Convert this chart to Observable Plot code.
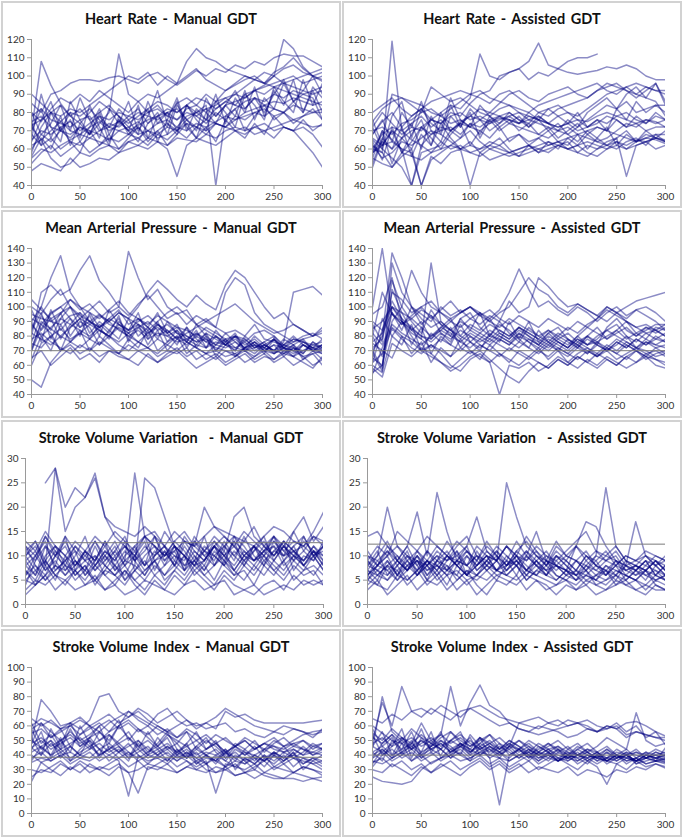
<!DOCTYPE html>
<html>
<head>
<meta charset="utf-8">
<script src="https://cdn.jsdelivr.net/npm/d3@7"></script>
<script src="https://cdn.jsdelivr.net/npm/@observablehq/plot@0.6"></script>
<style>
  html, body { margin: 0; padding: 0; background: #fff; }
  #root { position: relative; width: 685px; height: 839px; background: #fff; overflow: hidden; font-family: Lato, "Open Sans", sans-serif; }
  .panel { position: absolute; box-sizing: border-box; border: 2px solid #d2d2d2; background: #fff; }
  .title { position: absolute; left: 0; right: 0; top: 7px; text-align: center; font: bold 14.5px Lato, "Open Sans", sans-serif; color: #111; white-space: pre; word-spacing: 2px; }
  .chart { position: absolute; }
</style>
</head>
<body>
<div id="root"></div>
<script>
const _ = NaN;
const minutes = [0,10,20,30,40,50,60,70,80,90,100,110,120,130,140,150,160,170,180,190,200,210,220,230,240,250,260,270,280,290,300];
const xTicks = [0,50,100,150,200,250,300];
const hrTicks = [40,50,60,70,80,90,100,110,120];
const mapTicks = [40,50,60,70,80,90,100,110,120,130,140];
const svvTicks = [0,5,10,15,20,25,30];
const sviTicks = [0,10,20,30,40,50,60,70,80,90,100];

const hrManual = [
 [58,72,80,75,70,68,72,75,70,73,78,76,80,82,78,85,88,84,90,86,92,95,98,100,96,102,105,110,104,100,98],
 [70,108,95,85,78,82,76,80,84,78,72,75,70,74,76,72,78,80,82,78,84,86,88,92,90,94,96,98,100,102,104],
 [85,80,90,92,96,98,98,97,99,100,98,96,100,102,98,95,99,103,100,104,102,106,104,108,106,110,112,111,111,108,105],
 [55,60,58,62,65,68,66,70,72,75,70,73,76,78,80,76,82,84,80,86,88,84,90,92,95,100,120,115,105,100,97],
 [62,65,55,50,52,58,56,60,62,58,64,66,62,68,65,70,66,72,70,74,72,76,78,80,82,78,80,84,82,80,80],
 [75,78,72,70,68,72,70,68,65,70,72,68,70,66,68,72,70,74,72,75,78,76,80,82,84,86,85,88,86,84,86],
 [48,52,50,48,55,50,52,55,54,58,60,62,60,64,62,66,65,64,68,66,70,72,70,72,74,70,72,70,72,68,61],
 [80,75,82,88,85,90,86,92,88,84,80,86,90,88,92,96,100,104,98,95,92,96,100,98,102,100,96,94,92,90,92],
 [65,70,68,72,75,70,74,78,76,80,78,82,74,78,82,80,84,80,76,82,86,84,82,88,86,90,88,92,90,92,94],
 [72,65,70,75,80,78,82,76,72,70,68,72,66,70,74,70,76,72,68,74,72,78,76,80,78,82,80,76,74,72,73],
 [68,62,66,60,64,62,66,64,62,60,64,62,66,64,60,45,62,66,64,62,66,70,72,68,70,72,74,76,78,80,82],
 [90,85,80,78,82,80,84,88,92,96,100,98,102,95,100,96,108,115,110,108,104,102,100,98,96,94,92,90,88,86,84],
 [78,82,76,74,72,76,78,70,74,72,76,80,78,76,80,82,76,80,84,40,78,82,86,88,84,82,80,86,90,88,76],
 [60,68,64,70,66,72,68,74,80,112,90,86,80,84,78,76,80,78,82,84,88,90,94,98,96,100,104,106,102,100,102],
 [52,58,62,56,60,64,58,62,66,64,68,66,70,68,72,70,74,72,76,74,72,70,68,72,70,66,72,70,64,58,50],
 [73,76,80,84,78,74,80,86,82,78,74,78,82,86,84,80,84,88,86,82,86,90,88,92,94,96,98,100,96,98,100],
 [70,82,66,78,62,74,68,80,64,76,70,84,66,78,72,86,70,82,76,90,74,88,80,94,78,92,84,98,80,94,88],
 [64,76,86,70,80,66,84,72,62,78,68,74,82,64,76,88,72,66,80,74,84,78,92,76,88,82,96,86,80,92,80],
 [80,68,74,84,70,88,76,66,82,74,86,70,78,92,74,68,84,76,70,86,80,72,90,84,76,94,86,80,98,84,96],
 [56,66,60,72,64,58,70,62,68,60,66,72,64,70,62,68,74,66,72,64,76,70,66,74,68,78,72,70,76,70,74],
 [74,62,80,70,76,64,72,82,68,76,70,64,74,80,68,84,76,70,88,78,84,92,82,88,80,90,98,86,92,100,90],
 [66,90,72,64,86,76,68,78,72,82,76,68,86,74,80,70,84,78,74,80,76,82,70,78,84,76,80,74,78,82,76]
];

const hrAssisted = [
 [60,58,119,70,65,62,68,72,70,75,78,76,80,78,76,74,78,76,74,72,74,76,75,78,80,78,76,74,76,75,72],
 [55,70,65,60,40,62,58,64,60,62,58,60,62,60,58,60,62,60,58,62,60,62,64,62,60,64,62,65,64,66,64],
 [68,75,80,72,78,82,76,74,80,78,85,90,92,100,102,104,98,102,100,104,102,101,102,103,105,104,106,104,100,98,98],
 [58,62,70,66,60,72,76,80,84,82,88,112,100,98,102,104,108,118,106,104,108,110,110,112,_,_,_,_,_,_,_],
 [65,60,55,50,40,58,60,62,70,74,78,82,80,85,90,92,88,86,90,92,94,90,88,92,96,94,92,90,94,92,92],
 [70,72,68,74,76,80,82,78,74,76,72,70,74,76,78,80,76,74,72,70,68,72,76,80,84,82,86,80,82,84,84],
 [62,55,58,64,62,66,70,68,64,60,62,60,64,62,58,60,62,58,60,62,60,62,58,56,60,62,60,64,66,68,68],
 [50,65,90,88,86,84,80,78,82,86,90,92,88,86,84,82,80,84,86,88,90,92,94,96,92,90,94,96,94,92,90],
 [72,80,74,68,72,70,76,74,78,80,76,78,75,77,76,74,76,78,74,72,74,70,72,76,74,78,80,76,74,78,76],
 [55,52,50,58,56,54,58,60,62,60,58,56,60,58,56,58,60,62,64,62,64,58,62,60,64,66,45,62,64,66,64],
 [60,68,72,70,74,78,72,76,70,74,72,76,74,78,80,76,74,80,78,82,84,86,88,92,94,96,92,88,92,96,84],
 [75,82,86,88,84,80,94,90,86,88,84,80,78,82,84,80,78,76,74,78,80,76,72,74,78,76,72,74,70,72,72],
 [66,62,64,60,58,40,56,52,58,60,40,58,54,56,58,56,58,60,62,64,66,68,70,72,70,68,66,64,66,65,63],
 [58,64,60,66,70,72,68,70,72,68,74,72,76,78,74,72,70,68,66,70,72,68,66,64,66,70,74,72,76,74,76],
 [80,84,88,82,78,82,86,88,90,92,90,88,85,90,92,88,84,80,82,84,80,78,82,86,90,92,94,90,88,86,78],
 [62,58,50,56,60,40,54,58,62,66,70,64,60,62,66,68,64,66,62,64,60,58,56,60,62,64,60,62,64,60,62],
 [64,54,72,58,68,76,62,80,70,66,74,68,78,72,76,70,74,68,72,66,70,74,68,72,70,76,72,78,74,80,76],
 [58,70,52,66,74,60,78,68,84,72,80,66,76,70,74,78,72,76,70,74,68,64,70,66,72,62,68,64,70,66,70],
 [72,60,78,86,66,82,74,70,88,76,72,84,78,74,80,76,72,78,74,70,76,72,80,84,88,82,90,94,88,96,86],
 [52,66,60,72,56,68,62,74,66,60,64,58,62,66,60,56,62,58,64,60,66,62,68,64,62,66,70,64,68,66,65],
 [68,76,64,80,72,86,70,64,78,72,82,76,70,74,78,74,80,76,82,78,74,80,72,76,70,82,76,86,80,84,80],
 [76,62,70,58,64,72,66,60,68,74,62,70,66,72,64,68,62,66,70,64,62,68,60,66,62,60,64,66,62,68,64]
];

const mapManual = [
 [90,100,120,135,110,100,90,95,88,85,80,84,78,82,80,76,78,74,72,76,74,72,70,74,72,68,72,70,74,72,70],
 [80,110,115,108,112,125,135,118,110,100,138,120,105,112,100,95,98,88,92,86,82,84,80,88,78,76,74,72,70,74,72],
 [70,85,95,100,105,98,102,95,90,96,92,100,110,118,112,105,100,108,102,98,115,125,120,110,100,92,96,88,84,80,86],
 [50,45,62,70,74,68,72,66,70,68,74,70,72,66,70,68,72,64,68,70,66,68,62,66,70,64,68,72,66,60,64],
 [95,92,90,88,94,96,90,86,92,88,84,88,82,86,80,84,78,82,76,80,74,78,72,76,70,74,72,78,76,74,76],
 [75,72,80,85,78,82,88,84,80,76,82,86,90,84,88,82,80,76,78,74,72,76,70,72,74,70,68,66,70,72,68],
 [85,100,90,95,105,100,96,92,98,104,96,92,88,94,90,86,84,80,86,82,78,80,76,82,84,80,72,76,78,80,82],
 [65,70,60,66,72,64,68,62,70,66,64,60,68,62,66,70,64,58,62,66,60,64,68,62,66,64,70,66,62,58,66],
 [100,95,105,112,100,94,90,86,92,98,88,92,86,80,84,78,82,86,90,94,98,102,96,90,86,82,84,88,84,80,84],
 [60,75,80,70,76,82,78,74,80,86,82,76,72,78,74,80,76,72,68,74,78,72,76,70,74,78,72,68,74,70,74],
 [88,80,86,92,88,84,80,86,90,84,80,76,82,88,84,78,74,80,76,72,70,68,72,74,70,68,72,70,66,68,70],
 [105,98,92,96,100,92,88,94,90,96,92,88,84,90,96,100,94,88,84,80,76,80,74,78,72,70,74,80,74,70,72],
 [78,82,76,72,68,74,70,76,72,68,64,70,66,62,68,72,66,70,64,68,62,66,70,64,68,62,66,60,64,68,60],
 [92,88,96,100,92,86,90,84,80,88,84,90,94,88,82,86,80,76,82,78,74,80,78,72,76,80,74,78,76,72,74],
 [70,90,85,80,86,92,98,104,96,100,94,102,108,100,92,96,88,94,90,86,110,120,115,96,88,84,80,76,80,82,78],
 [82,78,74,80,76,72,78,84,80,74,70,76,72,68,74,70,76,72,68,64,70,66,72,68,74,70,76,110,112,114,108],
 [84,96,78,92,100,86,94,80,98,88,82,92,86,78,90,82,76,88,80,74,82,76,72,80,74,70,78,74,68,76,72],
 [72,88,82,70,86,92,78,88,82,94,76,86,80,90,76,84,72,82,78,70,76,82,70,76,72,78,70,74,78,70,74],
 [90,76,98,84,92,80,96,86,78,90,84,96,78,88,82,74,86,78,72,84,76,70,80,74,68,78,72,66,74,70,64],
 [64,80,70,88,76,84,70,80,74,68,78,72,84,70,76,80,68,74,82,70,78,66,72,76,70,74,66,72,68,76,70],
 [98,84,92,78,88,96,82,90,84,78,92,80,86,96,82,88,76,84,72,80,74,70,78,72,76,68,74,70,76,72,78],
 [76,94,84,96,80,90,86,74,84,92,78,88,74,84,70,78,86,72,80,66,74,80,70,66,72,78,68,74,64,70,68]
];

const mapAssisted = [
 [100,140,95,90,85,80,78,84,80,76,82,78,74,80,76,72,78,74,70,76,72,78,74,76,80,84,78,82,86,84,88],
 [60,55,130,110,100,92,86,90,84,80,76,82,78,84,80,86,82,78,74,80,76,72,78,74,70,76,72,78,74,80,76],
 [70,80,137,120,100,95,90,100,94,98,92,96,90,86,92,88,84,80,76,82,78,74,80,76,72,78,74,70,76,72,74],
 [55,60,90,100,125,110,100,96,92,96,100,94,90,96,100,110,120,112,108,100,96,102,98,94,100,96,92,98,94,90,84],
 [75,70,65,80,76,70,74,68,60,56,64,68,62,40,60,58,62,56,60,66,62,58,64,60,66,62,58,62,66,60,58],
 [65,60,100,90,82,78,130,90,84,78,84,80,76,82,78,84,80,76,72,78,74,80,86,82,78,82,86,80,84,88,88],
 [80,110,95,88,92,86,80,84,90,96,100,96,92,98,110,126,112,100,104,98,94,100,96,90,96,100,94,98,100,96,90],
 [58,52,75,70,66,72,68,62,58,64,70,66,62,68,64,60,66,62,58,64,60,66,62,68,64,60,66,62,68,64,62],
 [72,78,110,105,96,100,104,96,90,86,92,88,94,90,104,96,100,120,114,106,100,102,98,94,90,96,100,104,106,108,110],
 [85,90,100,92,86,80,76,82,78,84,80,76,80,78,74,80,76,72,78,74,70,76,72,68,74,70,76,72,68,70,66],
 [62,68,85,78,72,68,74,70,66,72,68,74,70,66,72,68,64,70,66,72,68,64,70,66,72,68,74,70,66,64,60],
 [90,84,100,96,92,98,94,88,84,90,86,82,88,84,80,86,82,78,84,80,86,82,88,92,100,96,90,86,82,84,80],
 [68,56,80,90,84,78,72,78,74,70,76,72,78,74,70,76,72,68,74,70,66,72,68,74,70,76,72,78,74,78,76],
 [95,100,120,90,80,70,66,62,56,60,66,70,64,58,52,48,56,62,58,64,60,66,62,58,64,60,66,70,64,68,70],
 [76,82,96,88,94,100,92,98,104,96,100,94,98,92,88,94,90,86,92,88,84,90,86,92,98,94,90,86,88,84,80],
 [82,74,88,82,78,74,80,86,82,76,72,78,84,80,76,82,78,74,80,76,72,78,74,80,84,80,76,72,76,74,78],
 [70,58,112,96,84,90,78,86,92,80,88,84,92,82,78,86,80,74,82,76,72,80,74,78,84,88,80,76,82,78,82],
 [62,84,104,92,74,86,68,80,74,88,76,70,82,76,90,78,72,84,76,70,78,74,68,76,70,74,80,72,78,74,72],
 [80,66,96,84,100,88,94,82,76,92,84,96,80,88,84,78,90,76,82,86,78,72,80,74,86,92,84,80,86,82,86],
 [54,72,86,80,68,76,62,72,66,78,70,64,74,68,62,70,66,72,64,70,62,68,72,66,70,64,68,72,70,66,68],
 [88,76,118,100,90,82,98,88,80,92,96,86,80,90,82,76,86,80,84,78,82,76,80,86,78,84,90,82,78,86,84],
 [66,92,80,74,88,70,82,76,86,72,80,74,70,78,74,82,76,70,76,72,68,74,70,66,72,68,64,70,66,72,68]
];

const svvManual = [
 [_,_,25,28,20,24,22,26,18,16,15,14,16,14,12,15,13,12,14,16,15,14,13,12,14,16,15,13,12,14,13],
 [10,12,8,28,15,20,22,27,18,14,12,10,14,12,10,11,13,12,10,12,14,12,10,9,11,12,10,11,12,10,12],
 [8,6,10,12,8,7,9,10,8,6,9,27,14,15,12,10,8,9,11,10,12,14,10,12,9,11,10,12,14,10,11],
 [5,4,6,8,7,9,6,8,10,7,9,8,26,24,18,12,10,8,9,12,10,8,11,9,10,12,8,10,9,11,8],
 [12,10,14,11,9,12,10,8,11,9,12,10,8,11,9,12,10,8,11,13,11,18,20,14,12,10,13,11,9,12,10],
 [3,5,4,6,5,3,4,5,3,4,2,3,5,4,3,2,4,5,3,4,5,2,3,4,2,3,4,3,5,4,5],
 [9,11,7,10,8,12,9,7,10,13,9,11,8,10,12,9,14,11,9,12,10,13,11,9,12,10,13,11,9,12,9],
 [6,8,5,7,9,6,8,5,7,6,8,5,7,9,6,8,10,7,9,12,8,6,9,7,10,8,6,9,7,8,6],
 [11,13,9,12,10,8,11,9,13,10,12,9,11,14,10,12,8,11,9,13,10,12,9,11,13,10,12,9,11,14,12],
 [7,5,9,6,4,7,5,8,6,4,7,5,3,6,4,7,5,8,6,4,7,5,8,6,9,7,5,8,6,7,4],
 [4,9,12,10,14,11,9,13,10,8,11,9,12,10,15,12,10,13,11,14,12,10,13,16,12,14,11,13,12,15,19],
 [10,7,5,8,6,9,7,5,8,6,4,7,5,8,6,9,7,10,8,12,9,7,10,8,11,9,12,10,8,11,8],
 [2,4,6,3,5,7,4,6,3,5,7,4,2,5,3,6,4,7,5,3,6,4,3,2,4,5,3,6,4,5,4],
 [13,11,15,12,10,13,11,14,12,15,13,11,14,12,10,13,15,12,20,16,14,12,15,13,11,14,12,15,18,13,16],
 [8,10,7,9,6,8,11,7,9,12,8,10,7,9,11,8,6,9,7,10,8,11,9,12,10,7,9,11,8,10,7],
 [5,7,9,6,8,5,7,10,6,8,5,7,9,6,8,12,7,9,6,8,10,7,5,8,6,9,7,10,8,6,9],
 [9,6,12,8,14,7,11,9,13,7,10,12,8,14,9,11,7,13,10,8,12,9,14,10,8,13,11,9,14,10,12],
 [12,8,6,10,13,9,7,12,8,11,14,9,6,10,12,8,13,10,7,11,9,13,8,12,10,14,9,12,8,11,10],
 [6,10,13,7,9,11,6,9,12,8,6,10,13,7,11,8,12,9,14,8,11,7,10,12,8,11,13,7,10,9,12],
 [10,13,8,11,7,10,14,8,11,9,13,7,10,12,8,10,9,14,11,9,13,10,8,11,14,9,12,10,13,11,9],
 [7,4,8,5,10,6,8,4,7,10,5,8,6,9,5,7,10,6,8,5,9,6,7,4,8,6,9,5,7,10,7],
 [11,9,14,10,12,8,10,13,9,11,8,12,14,9,10,13,11,8,12,10,8,14,12,9,11,13,10,15,11,9,13]
];

const svvAssisted = [
 [14,15,12,10,8,9,7,8,6,7,5,6,8,7,6,5,7,6,8,6,5,7,6,5,4,6,5,7,6,5,6],
 [8,10,20,12,10,9,8,11,9,10,8,12,10,9,25,18,12,10,9,8,7,9,8,10,24,12,9,8,7,9,8],
 [6,8,7,9,12,19,10,23,15,9,8,10,9,7,9,8,10,15,9,8,7,12,17,16,12,9,8,7,9,8,6],
 [5,7,6,8,5,7,9,6,8,5,7,6,8,6,7,9,7,6,5,4,6,5,7,4,5,6,4,5,7,4,3],
 [10,9,11,8,10,7,9,8,10,9,11,8,10,9,12,10,9,11,8,10,9,12,10,9,11,8,10,9,8,10,9],
 [3,5,2,4,6,3,5,4,6,3,5,2,4,6,5,4,6,5,3,4,5,3,4,2,3,4,5,3,4,3,3],
 [7,6,8,10,7,9,6,8,7,9,6,8,10,7,8,9,6,8,7,5,7,6,8,7,9,10,7,8,7,9,7],
 [9,12,10,15,13,11,14,12,10,13,11,9,12,10,8,11,13,10,8,12,10,9,11,8,10,12,9,8,10,9,7],
 [4,6,5,7,4,6,8,5,7,6,4,6,5,7,6,8,5,7,6,5,7,6,4,6,5,7,6,5,4,6,5],
 [11,8,10,12,9,11,8,10,9,12,14,10,8,11,9,13,10,8,10,9,11,13,15,11,9,8,10,9,11,10,9],
 [6,9,7,5,8,6,9,7,10,8,6,9,7,5,8,10,7,9,6,8,7,5,6,8,7,6,8,7,9,6,8],
 [8,7,9,6,8,10,7,9,11,8,10,7,9,12,10,8,11,9,7,10,8,6,9,7,6,8,7,6,8,7,6],
 [5,4,3,6,5,7,4,6,3,5,7,4,2,5,4,6,3,5,4,2,4,3,5,4,3,5,4,3,2,4,3],
 [7,10,13,9,12,8,11,9,13,10,12,18,11,9,12,10,14,11,9,13,10,12,9,11,10,9,8,17,10,8,10],
 [9,6,8,7,9,6,8,10,7,9,8,6,9,7,10,8,6,9,7,8,6,7,5,6,8,7,6,5,7,6,5],
 [6,8,11,9,7,10,8,6,9,11,8,10,7,9,12,9,7,10,8,11,9,7,10,8,6,9,7,8,6,7,5],
 [7,5,9,6,10,8,5,9,7,11,6,8,10,7,9,6,10,8,6,9,7,5,8,6,7,5,8,6,7,5,6],
 [9,7,5,8,11,6,9,7,10,8,6,11,8,10,7,9,11,8,6,10,8,6,7,9,6,8,5,7,9,6,8],
 [5,8,10,6,9,7,11,8,6,9,12,7,9,11,8,10,7,9,11,8,6,9,7,5,8,6,9,7,5,8,6],
 [8,11,6,9,7,10,6,9,8,6,10,8,11,9,7,10,8,6,9,7,9,7,10,8,7,9,6,8,7,9,7],
 [6,4,8,5,7,9,5,7,4,8,6,5,7,9,6,8,5,7,9,6,5,4,6,5,7,4,6,5,3,5,4],
 [10,8,12,9,7,11,9,12,10,8,11,9,13,10,8,11,9,12,10,8,10,9,7,10,9,11,8,9,10,8,9]
];

const sviManual = [
 [50,78,70,60,62,58,64,80,82,70,66,72,68,62,66,70,64,60,62,58,70,66,68,64,62,62,62,62,62,63,64],
 [40,35,38,42,36,40,38,44,40,36,12,40,36,38,42,36,40,34,38,36,32,36,34,38,36,40,34,38,36,34,36],
 [60,65,62,58,60,64,60,56,62,66,70,64,60,68,72,64,60,62,58,60,62,56,58,54,52,56,54,58,56,52,58],
 [45,50,44,48,52,46,50,44,48,42,46,50,44,40,46,42,38,44,40,36,42,38,34,40,36,42,38,44,40,46,44],
 [30,28,32,36,30,34,28,32,30,34,28,14,32,30,34,28,32,36,30,28,32,26,28,24,28,26,24,28,26,24,22],
 [55,58,52,56,60,54,58,62,56,60,64,58,54,60,56,52,58,54,48,54,50,46,52,48,44,50,46,48,44,42,45],
 [35,38,36,40,42,38,36,40,44,38,42,36,40,38,34,40,36,32,36,14,34,32,30,34,28,32,30,28,32,30,28],
 [65,60,64,58,62,66,60,64,68,62,66,70,64,60,56,60,64,58,62,66,72,68,64,60,58,56,60,58,56,54,56],
 [42,46,50,44,48,52,46,50,54,48,52,46,50,44,48,42,46,40,44,48,42,46,50,44,48,46,44,48,50,46,48],
 [25,30,28,34,30,36,32,30,34,38,32,36,30,34,38,32,36,30,28,32,30,34,28,32,36,30,34,28,32,30,26],
 [50,45,40,44,38,42,46,40,44,48,42,38,42,46,40,36,42,38,34,40,36,32,38,34,40,36,42,38,34,38,36],
 [38,42,36,40,34,38,42,36,40,44,38,42,46,40,44,38,42,36,40,44,38,42,36,40,44,46,42,44,40,42,40],
 [58,62,56,50,54,48,52,56,50,60,70,66,62,58,54,50,46,50,44,48,42,46,40,44,48,44,42,46,44,40,42],
 [22,35,30,26,32,28,34,30,26,32,28,30,34,32,30,28,32,30,34,28,30,26,28,30,26,24,24,24,22,24,25],
 [48,52,46,50,56,50,54,60,64,58,62,56,60,54,58,52,56,50,54,48,52,46,50,44,48,52,46,50,54,56,57],
 [45,40,48,42,46,40,44,48,42,46,40,44,38,42,46,40,44,38,42,40,44,38,42,40,36,42,38,40,38,36,40],
 [52,40,58,46,62,50,44,56,48,60,52,44,56,46,52,40,48,56,44,50,38,46,42,36,44,40,46,38,42,48,44],
 [44,56,38,50,42,60,48,40,54,46,38,50,42,48,56,44,38,46,40,34,42,36,44,38,32,40,36,42,34,38,34],
 [62,48,54,44,58,46,52,60,44,50,56,46,40,52,44,48,40,46,52,42,36,44,40,46,38,42,36,40,46,40,44],
 [36,46,40,52,36,44,50,38,46,42,36,48,40,44,36,42,48,34,40,36,44,30,38,34,40,32,36,42,30,36,32],
 [48,62,52,58,46,54,60,50,56,64,50,58,52,46,54,48,56,44,50,46,40,48,44,50,42,48,52,46,50,44,48],
 [58,44,50,38,46,40,52,44,36,42,48,40,34,40,36,44,38,42,34,38,32,40,36,30,38,34,40,32,38,34,30]
];

const sviAssisted = [
 [25,22,21,20,22,30,35,38,40,36,38,42,40,38,36,40,42,38,40,36,38,40,42,38,36,40,38,36,40,38,40],
 [50,76,60,87,70,66,72,68,64,70,72,74,70,66,64,62,64,66,62,64,60,62,58,56,58,60,54,56,54,52,52],
 [45,80,56,50,58,52,48,54,87,60,76,88,74,70,62,58,56,60,58,56,52,54,58,56,60,58,52,56,54,52,50],
 [40,44,38,42,46,40,44,48,42,46,40,44,38,6,40,44,38,42,40,36,40,38,42,36,38,40,36,38,34,36,35],
 [60,55,50,48,52,46,50,54,48,52,46,50,54,48,44,50,46,42,48,44,40,46,42,38,44,40,36,38,34,36,34],
 [35,38,32,36,30,34,28,32,36,30,34,38,32,36,30,34,28,32,30,28,32,26,30,28,25,30,28,32,30,34,32],
 [48,52,46,50,44,48,52,46,50,54,48,44,48,42,46,50,44,40,44,38,42,36,40,38,36,34,38,36,40,38,37],
 [55,50,58,52,48,54,48,44,50,46,42,48,44,40,46,62,60,58,62,60,64,62,60,56,60,58,62,63,60,56,47],
 [38,42,36,40,44,38,42,36,40,44,38,42,46,40,44,38,42,36,40,44,38,36,40,38,42,36,40,44,38,42,40],
 [65,62,68,64,70,72,68,74,70,66,72,68,64,60,62,58,56,54,56,58,60,62,64,60,58,62,56,60,52,56,53],
 [30,28,34,30,26,32,28,34,30,26,32,36,30,34,28,32,36,30,34,38,34,30,36,32,20,34,30,36,32,34,31],
 [42,46,40,44,48,42,46,50,44,48,42,46,50,44,48,42,46,40,44,40,38,42,36,40,44,38,42,40,38,36,38],
 [52,48,54,48,44,50,46,52,56,50,46,52,48,44,50,46,42,48,44,46,42,40,44,40,38,42,40,36,40,38,40],
 [32,40,44,38,42,36,40,44,38,42,36,40,34,38,32,36,40,34,38,36,40,34,38,42,36,40,34,38,42,36,45],
 [46,42,48,52,46,50,44,48,42,46,50,44,48,52,46,44,48,42,46,50,44,48,42,46,52,48,44,69,50,46,48],
 [36,34,38,42,36,40,34,38,42,48,44,40,46,42,38,44,40,36,42,38,36,40,38,34,38,36,40,36,38,40,36],
 [46,56,40,52,44,58,42,50,46,40,54,46,42,48,40,44,38,46,42,36,44,40,38,42,36,40,44,38,42,40,38],
 [38,48,54,42,50,38,46,56,40,48,44,52,40,46,42,38,44,40,36,42,38,44,40,36,42,38,40,36,38,42,39],
 [54,40,46,58,38,52,44,40,50,56,42,48,54,44,50,46,40,44,48,42,46,40,44,42,38,44,40,42,38,40,42],
 [42,36,50,44,56,40,48,44,38,46,52,40,44,38,46,40,36,42,38,44,36,40,36,40,34,38,42,34,36,38,35],
 [58,46,52,40,48,62,50,44,56,48,40,52,46,42,48,44,50,46,42,46,40,44,48,42,46,40,38,42,40,44,41],
 [34,44,38,48,36,42,56,38,44,40,36,46,38,42,36,40,44,38,42,36,40,38,34,40,36,38,40,34,38,36,37]
];

const titles = [
 "Heart Rate - Manual GDT", "Heart Rate - Assisted GDT",
 "Mean Arterial Pressure - Manual GDT", "Mean Arterial Pressure - Assisted GDT",
 "Stroke Volume Variation  - Manual GDT", "Stroke Volume Variation  - Assisted GDT",
 "Stroke Volume Index - Manual GDT", "Stroke Volume Index - Assisted GDT"
];
const targets = [null, null, 70, 70, 12.7, 12.4, 38.5, 40];

const panels = [
 {series: hrManual, ticks: hrTicks, target: targets[0]},
 {series: hrAssisted, ticks: hrTicks, target: targets[1]},
 {series: mapManual, ticks: mapTicks, target: targets[2]},
 {series: mapAssisted, ticks: mapTicks, target: targets[3]},
 {series: svvManual, ticks: svvTicks, target: targets[4]},
 {series: svvAssisted, ticks: svvTicks, target: targets[5]},
 {series: sviManual, ticks: sviTicks, target: targets[6]},
 {series: sviAssisted, ticks: sviTicks, target: targets[7]}
];

// layout (pixels)
const colLeft = [1, 342];
const colW = 340;
const rowTop = [1, 210, 420, 629];
const rowH = [207, 208, 207, 208];
const titleH = 30;
const plotTopOff = 38, plotBotOff = 184;
const plotX = [[31, 322], [372, 665]];
const plotXsvv = [[25, 323], [367, 665]];

const root = document.getElementById("root");
const lineColor = "#000080";

panels.forEach((p, i) => {
  const col = i % 2, row = Math.floor(i / 2);
  const L = colLeft[col], T = rowTop[row], H = rowH[row];
  const div = document.createElement("div");
  div.className = "panel";
  div.style.left = L + "px"; div.style.top = T + "px";
  div.style.width = colW + "px"; div.style.height = H + "px";
  root.appendChild(div);

  const t = document.createElement("div");
  t.className = "title";
  t.textContent = titles[i];
  div.appendChild(t);

  const [x0, x1] = (row === 2 ? plotXsvv : plotX)[col];
  const svgLeft = L + 2, svgTop = T + titleH;
  const svgW = colW - 4, svgH = H - titleH - 2;
  const rows = [];
  p.series.forEach((s, k) => s.forEach((v, j) => rows.push({x: minutes[j], y: v, s: k})));
  const yDom = [p.ticks[0], p.ticks[p.ticks.length - 1]];

  const marks = [
    Plot.line(rows, {x: "x", y: "y", z: "s", stroke: lineColor, strokeOpacity: 0.45, strokeWidth: 1.5, clip: true}),
  ];
  if (p.target != null) marks.push(Plot.ruleY([p.target], {stroke: "#7a7a7a", strokeWidth: 1}));
  marks.push(
    Plot.ruleX([0], {stroke: "#9a9a9a", strokeWidth: 1}),
    Plot.ruleY([yDom[0]], {stroke: "#9a9a9a", strokeWidth: 1}),
    Plot.axisY({ticks: p.ticks, tickSize: 4, tickPadding: 3, stroke: "#9a9a9a", fill: "#333", fontSize: 10, label: null}),
    Plot.axisX({ticks: xTicks, tickSize: 4, tickPadding: 3, stroke: "#9a9a9a", fill: "#333", fontSize: 10, label: null})
  );

  const chart = Plot.plot({
    width: svgW,
    height: svgH,
    marginLeft: x0 - svgLeft,
    marginRight: svgLeft + svgW - x1,
    marginTop: T + plotTopOff - svgTop,
    marginBottom: svgTop + svgH - (T + plotBotOff),
    x: {domain: [0, 300], label: null},
    y: {domain: yDom, label: null},
    style: {fontFamily: "Lato, 'Open Sans', sans-serif", fontSize: "10px", background: "transparent", overflow: "visible"},
    marks
  });
  chart.classList.add("chart");
  chart.style.position = "absolute";
  chart.style.left = (svgLeft - L - 2) + "px";
  chart.style.top = (svgTop - T - 2) + "px";
  div.appendChild(chart);
});
</script>
</body>
</html>
